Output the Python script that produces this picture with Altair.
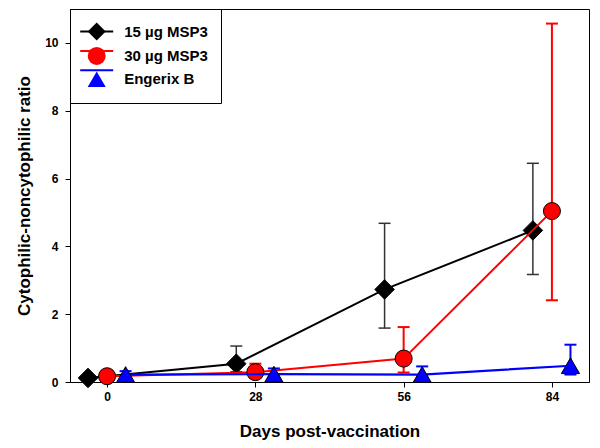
import altair as alt
import pandas as pd

# ---------------- data ----------------
days = [0, 28, 56, 84]
series_names = ["15 µg MSP3", "30 µg MSP3", "Engerix B"]

msp15_mean = [0.12, 0.54, 2.73, 4.47]
msp15_low = [0.06, 0.30, 1.59, 3.17]
msp15_high = [0.20, 1.06, 4.68, 6.45]

msp30_mean = [0.17, 0.29, 0.69, 5.04]
msp30_low = [0.10, 0.12, 0.28, 2.41]
msp30_high = [0.25, 0.54, 1.62, 10.57]

engerix_mean = [0.22, 0.23, 0.22, 0.48]
engerix_low = [0.16, 0.17, 0.16, 0.22]
engerix_high = [0.32, 0.40, 0.46, 1.10]

# groups are shifted slightly along the day axis in the original figure
dodge_days = [-3.6, 0.0, 3.5]

# ---------------- styles ----------------
FONT = "Liberation Sans"
line_colors = ["#000000", "#ff0000", "#0000ff"]
err_colors = ["#333333", "#ff0000", "#0000ff"]
fill_colors = ["#000000", "#ff0000", "#0000ff"]
shapes = ["diamond", "circle", "triangle-up"]
marker_sizes = [380, 290, 330]
line_widths = [2, 2, 2.2]
err_widths = [1.5, 2, 2]

means = [msp15_mean, msp30_mean, engerix_mean]
lows = [msp15_low, msp30_low, engerix_low]
highs = [msp15_high, msp30_high, engerix_high]

rows = []
for s, name in enumerate(series_names):
    for d, m, lo, hi in zip(days, means[s], lows[s], highs[s]):
        rows.append(dict(series=name, series_l=name, series_p=name, day=d,
                         x=d + dodge_days[s], mean=m, low=lo, high=hi))
df = pd.DataFrame(rows)

x_scale = alt.Scale(domain=[-7, 91], nice=False, zero=False)
y_scale = alt.Scale(domain=[0, 11], nice=False, zero=True)

x_axis = alt.Axis(values=days, title="Days post-vaccination", grid=False,
                  tickSize=5, labelPadding=4, titlePadding=21,
                  labelFont=FONT, labelFontSize=12, labelFontWeight="bold",
                  titleFont=FONT, titleFontSize=17, titleFontWeight="bold",
                  labelColor="black", titleColor="black",
                  domainColor="black", tickColor="black")
y_axis = alt.Axis(values=[0, 2, 4, 6, 8, 10], title="Cytophilic-noncytophilic ratio",
                  grid=False, tickSize=5, labelPadding=7, titlePadding=11,
                  labelFont=FONT, labelFontSize=12, labelFontWeight="bold",
                  titleFont=FONT, titleFontSize=17, titleFontWeight="bold",
                  labelColor="black", titleColor="black",
                  domainColor="black", tickColor="black")

Y_TITLE = "Cytophilic-noncytophilic ratio"
X = alt.X("x:Q", scale=x_scale, axis=x_axis, title="Days post-vaccination")

# line colour scale takes its (alphabetical) domain from the data so that its
# legend stays separate from the marker legend drawn on top of it
color_scale = alt.Scale(range=line_colors)
shape_scale = alt.Scale(domain=series_names, range=shapes)
fill_scale = alt.Scale(domain=series_names, range=fill_colors)

common_leg = dict(title=None, orient="none", legendX=0, legendY=0,
                  labelFont=FONT, labelFontSize=15, labelFontWeight="bold",
                  padding=13, rowPadding=1.4, symbolOffset=4.2, labelOffset=18)
line_legend = alt.Legend(symbolType="M-1.94,0H1.94", symbolSize=289,
                         symbolStrokeWidth=2, labelExpr="''", zindex=1,
                         **common_leg)
point_legend = alt.Legend(symbolSize=324, symbolStrokeWidth=1,
                          symbolStrokeColor="black", symbolOpacity=1,
                          labelColor="black", strokeColor="black", zindex=2,
                          **common_leg)

layers = []
for i, name in enumerate(series_names):
    base = alt.Chart(df).transform_filter(alt.datum.series == name)
    line = base.mark_line(strokeWidth=line_widths[i]).encode(
        x=X,
        y=alt.Y("mean:Q", scale=y_scale, axis=y_axis, title=Y_TITLE),
        color=alt.Color("series_l:N", scale=color_scale, legend=line_legend),
    )
    rule = base.mark_rule(color=err_colors[i], strokeWidth=err_widths[i]).encode(
        x=X,
        y=alt.Y("low:Q", scale=y_scale, axis=y_axis, title=Y_TITLE),
        y2="high:Q",
    )
    cap_hi = base.mark_tick(orient="horizontal", size=12, thickness=err_widths[i],
                            color=err_colors[i], opacity=1).encode(
        x=X, y=alt.Y("high:Q", scale=y_scale, axis=y_axis, title=Y_TITLE))
    cap_lo = base.mark_tick(orient="horizontal", size=12, thickness=err_widths[i],
                            color=err_colors[i], opacity=1).encode(
        x=X, y=alt.Y("low:Q", scale=y_scale, axis=y_axis, title=Y_TITLE))
    pts = base.mark_point(filled=True, size=marker_sizes[i], stroke="black",
                          strokeWidth=1, opacity=1).encode(
        x=X,
        y=alt.Y("mean:Q", scale=y_scale, axis=y_axis, title=Y_TITLE),
        shape=alt.Shape("series_p:N", scale=shape_scale, legend=point_legend),
        fill=alt.Fill("series_p:N", scale=fill_scale, legend=point_legend),
    )
    layers += [line, rule, cap_hi, cap_lo, pts]

chart = alt.layer(*layers).properties(
    width=519, height=373,
    padding={"left": 62, "top": 1, "right": 3, "bottom": 58},
    autosize=alt.AutoSizeParams(type="none"),
).configure_view(stroke="black", strokeWidth=1)

chart.save("out.html", embed_options={"renderer": "svg", "actions": False})
